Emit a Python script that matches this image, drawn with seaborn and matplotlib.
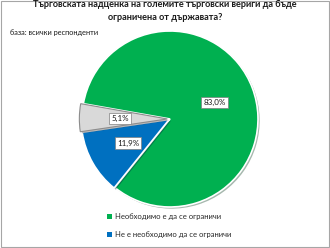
import matplotlib
matplotlib.use("Agg")
import matplotlib.pyplot as plt
import matplotlib.patches as mpatches
import matplotlib.patheffects as pe
import seaborn as sns

categories = ["Необходимо е да се ограничи", "Не е необходимо да се ограничи", "Не мога да преценя"]
values = [83.0, 11.9, 5.1]
colors = ["#00B050", "#0070C0", "#D9D9D9"]
title_lines = ["Търговската надценка на големите търговски вериги да бъде",
               "ограничена от държавата?"]
subtitle = "база: всички респонденти"

sns.set_theme(style="white")
plt.rcParams["font.family"] = ["Lato", "DejaVu Sans"]

W, H = 330, 248
fig = plt.figure(figsize=(W / 100, H / 100), dpi=100)
fig.patch.set_facecolor("white")

# border
fig.add_artist(mpatches.Rectangle((0.003, 0.003), 0.994, 0.994, transform=fig.transFigure,
                                  fill=False, edgecolor="#A6A6A6", linewidth=0.8))

cx, cy, r = 170, 119, 88
ax = fig.add_axes([(cx - r) / W, (H - cy - r) / H, 2 * r / W, 2 * r / H])

def fmt(p):
    return f"{p:.1f}%".replace(".", ",")

wedges, texts, autotexts = ax.pie(
    values, colors=colors, startangle=170, counterclock=False,
    explode=[0, 0.01, 0.03], radius=1.0, autopct=fmt, pctdistance=0.54,
    wedgeprops=dict(linewidth=1.2, edgecolor="white"),
    textprops=dict(fontsize=5.8, color="#1a1a1a"))
ax.set_xlim(-1, 1)
ax.set_ylim(-1, 1)
ax.set_aspect("equal")
ax.axis("off")
wedges[2].set_edgecolor("#8C8C8C")
wedges[2].set_linewidth(0.8)
for w in wedges:
    w.set_path_effects([pe.SimplePatchShadow(offset=(1.2, -1.2), alpha=0.35), pe.Normal()])
for t in autotexts:
    t.set_bbox(dict(boxstyle="square,pad=0.25", facecolor="white", edgecolor="#7F7F7F", linewidth=0.5))

fig.text(0.5, 1 - 4 / H, title_lines[0], ha="center", va="center", fontsize=6.6, fontweight="bold", color="#1a1a1a")
fig.text(0.5, 1 - 17 / H, title_lines[1], ha="center", va="center", fontsize=6.6, fontweight="bold", color="#1a1a1a")
fig.text(10 / W, 1 - 32 / H, subtitle, ha="left", va="center", fontsize=5.3, color="#1a1a1a")

handles = [mpatches.Patch(facecolor=colors[i], edgecolor="none") for i in range(2)]
fig.legend(handles, categories[:2], loc="upper left", bbox_to_anchor=(107 / W, 1 - 213 / H),
           frameon=False, fontsize=5.5, handlelength=0.7, handleheight=0.7,
           handletextpad=0.4, labelspacing=1.45, borderpad=0, borderaxespad=0)

fig.savefig("out.png", dpi=100, facecolor="white")
